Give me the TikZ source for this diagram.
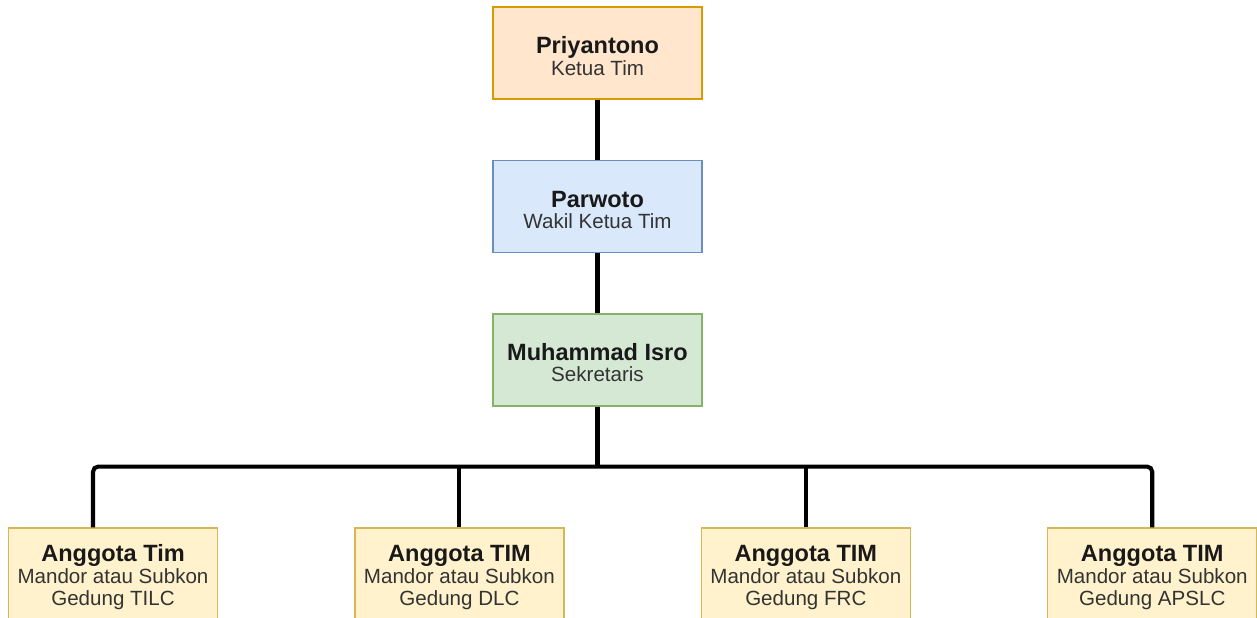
\documentclass[tikz,border=0pt]{standalone}
\usepackage{fontspec}
\setmainfont{Liberation Sans}
\usetikzlibrary{positioning,calc}
\definecolor{ketuafill}{HTML}{FFE6CC}
\definecolor{ketuadraw}{HTML}{D79B00}
\definecolor{wakilfill}{HTML}{DAE8FC}
\definecolor{wakildraw}{HTML}{6C8EBF}
\definecolor{sekfill}{HTML}{D5E8D4}
\definecolor{sekdraw}{HTML}{82B366}
\definecolor{timfill}{HTML}{FFF2CC}
\definecolor{timdraw}{HTML}{D6B656}
\newcommand{\nama}[1]{{\fontsize{13.4}{15}\selectfont\bfseries\rule{0pt}{13.2pt}#1}}
\newcommand{\jabatan}[1]{{\fontsize{11.7}{12.5}\selectfont\color{black!80}#1}}
\tikzset{
  box/.style     = {draw, line width=0.8pt, align=center, minimum width=4.18cm,
                    minimum height=1.84cm, inner sep=0pt, text=black!90},
  ketua/.style   = {box, fill=ketuafill, draw=ketuadraw},
  wakil/.style   = {box, fill=wakilfill, draw=wakildraw},
  sekr/.style    = {box, fill=sekfill, draw=sekdraw},
  anggota/.style = {box, fill=timfill, draw=timdraw},
  conn/.style    = {line width=2.3pt, black, rounded corners=3pt},
}
\begin{document}
\begin{tikzpicture}[node distance=1.2cm and 2.72cm]
  \useasboundingbox (0,0) rectangle (25.14,-12.34);
  \node[ketua] (ketua) at (11.95,-1.06) {\nama{Priyantono}\\ \jabatan{Ketua Tim}};
  \node[wakil, below=of ketua] (wakil) {\nama{Parwoto}\\ \jabatan{Wakil Ketua Tim}};
  \node[sekr, below=of wakil] (sekr) {\nama{Muhammad Isro}\\ \jabatan{Sekretaris}};
  \node[anggota] (tilc) at (2.26,-11.48) {\nama{Anggota Tim}\\[1pt] \jabatan{Mandor atau Subkon}\\[0.5pt] \jabatan{Gedung TILC}};
  \node[anggota, right=of tilc] (dlc) {\nama{Anggota TIM}\\[1pt] \jabatan{Mandor atau Subkon}\\[0.5pt] \jabatan{Gedung DLC}};
  \node[anggota, right=of dlc] (frc) {\nama{Anggota TIM}\\[1pt] \jabatan{Mandor atau Subkon}\\[0.5pt] \jabatan{Gedung FRC}};
  \node[anggota, right=of frc] (apslc) {\nama{Anggota TIM}\\[1pt] \jabatan{Mandor atau Subkon}\\[0.5pt] \jabatan{Gedung APSLC}};
  \coordinate (bus) at ($(sekr.south)+(0,-1.2)$);
  \coordinate (tilctop) at ($(tilc.north)+(-0.4,0)$);
  \draw[conn] (ketua) -- (wakil);
  \draw[conn] (wakil) -- (sekr);
  \draw[conn] (sekr) -- (bus);
  \draw[conn] (tilctop) |- (bus) -| (apslc.north);
  \draw[conn] (dlc.north) -- (dlc.north |- bus);
  \draw[conn] (frc.north) -- (frc.north |- bus);
\end{tikzpicture}
\end{document}
